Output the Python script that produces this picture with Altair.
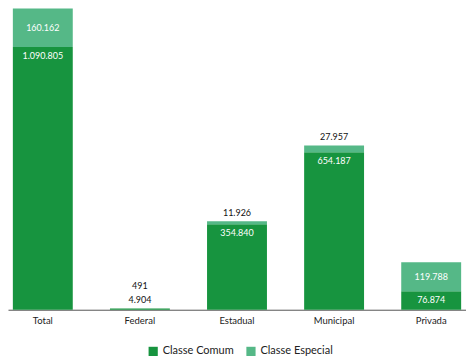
import altair as alt
import pandas as pd

categories = ["Total", "Federal", "Estadual", "Municipal", "Privada"]
comum = [1090805, 4904, 354840, 654187, 76874]
especial = [160162, 491, 11926, 27957, 119788]
series = ["Classe Comum", "Classe Especial"]
colors = ["#17943F", "#55B887"]

def fmt(v):
    return f"{v:,}".replace(",", ".")

rows = []
for c, a, b in zip(categories, comum, especial):
    rows.append({"cat": c, "serie": series[0], "start": 0, "end": a})
    rows.append({"cat": c, "serie": series[1], "start": a, "end": a + b})
bars_df = pd.DataFrame(rows)

lab_df = pd.DataFrame({
    "cat": categories,
    "comum": comum,
    "especial": especial,
    "total": [a + b for a, b in zip(comum, especial)],
    "mid": [a + b / 2 for a, b in zip(comum, especial)],
    "lc": [fmt(v) for v in comum],
    "le": [fmt(v) for v in especial],
})

ymax = max(a + b for a, b in zip(comum, especial))
FONT = "Lato"

x = alt.X("cat:N", sort=categories, title=None,
          scale=alt.Scale(paddingInner=0.383, paddingOuter=0.05),
          axis=alt.Axis(labelAngle=0, ticks=False, domainColor="#555",
                        labelColor="#222", labelFontSize=9.5, labelFont=FONT,
                        labelPadding=6))
yscale = alt.Scale(domain=[0, ymax], nice=False, zero=True)

bars = alt.Chart(bars_df).mark_bar().encode(
    x=x,
    y=alt.Y("start:Q", scale=yscale, axis=None),
    y2="end:Q",
    color=alt.Color("serie:N", scale=alt.Scale(domain=series, range=colors),
                    legend=alt.Legend(title=None, orient="none", direction="horizontal",
                                      legendX=140, legendY=338, symbolType="square",
                                      symbolSize=85, symbolStrokeWidth=0,
                                      labelFontSize=11, labelFont=FONT, labelColor="#222",
                                      columnPadding=11, symbolOpacity=1)),
)

base = alt.Chart(lab_df)
txt = dict(font=FONT, fontSize=9)

comum_in = base.transform_filter("datum.comum >= 20000").mark_text(
    color="white", baseline="middle", dy=9, **txt).encode(
    x=alt.X("cat:N", sort=categories), y=alt.Y("comum:Q", scale=yscale), text="lc:N")

esp_in = base.transform_filter("datum.especial >= 100000").mark_text(
    color="white", baseline="middle", dy=0, **txt).encode(
    x=alt.X("cat:N", sort=categories), y=alt.Y("mid:Q", scale=yscale), text="le:N")

esp_above = base.transform_filter("datum.especial < 100000 && datum.comum >= 20000").mark_text(
    color="#111", baseline="middle", dy=-8, **txt).encode(
    x=alt.X("cat:N", sort=categories), y=alt.Y("total:Q", scale=yscale), text="le:N")

comum_above = base.transform_filter("datum.comum < 20000").mark_text(
    color="#111", baseline="middle", dy=-8, **txt).encode(
    x=alt.X("cat:N", sort=categories), y=alt.Y("total:Q", scale=yscale), text="lc:N")

esp_above2 = base.transform_filter("datum.comum < 20000").mark_text(
    color="#111", baseline="middle", dy=-22, **txt).encode(
    x=alt.X("cat:N", sort=categories), y=alt.Y("total:Q", scale=yscale), text="le:N")

chart = alt.layer(bars, comum_in, esp_in, esp_above, comum_above, esp_above2).properties(
    width=459, height=302, padding=0, background="white"
).configure_view(stroke=None)

chart.save("out.html", embed_options={"renderer": "svg", "actions": False})
